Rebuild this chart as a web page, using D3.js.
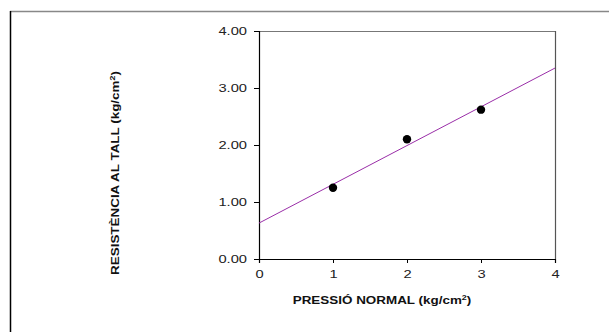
<!DOCTYPE html>
<html><head><meta charset="utf-8">
<script src="https://cdn.jsdelivr.net/npm/d3@7"></script>
<style>body{margin:0;background:#fff;}svg{display:block;font-family:"Liberation Sans",Arial,sans-serif;}</style>
</head><body>
<svg id="c" width="609" height="332"></svg>
<script>
const pressure = [1, 2, 3];
const resistance = [1.25, 2.10, 2.62];
const fitX = [0, 4];
const fitY = [0.63, 3.35];
const xTicks = [0, 1, 2, 3, 4];
const yTicks = [0, 1, 2, 3, 4];

const svg = d3.select("#c");
const L = 259, R = 555, T = 31, B = 259;
const SX = 1.28; // wide text rendering
const x = d3.scaleLinear().domain([0, 4]).range([L, R]);
const y = d3.scaleLinear().domain([0, 4]).range([B, T]);

// outer frame
svg.append("line").attr("x1",10).attr("x2",609).attr("y1",11.5).attr("y2",11.5).attr("stroke","#888").attr("stroke-width",1.5);
svg.append("line").attr("x1",10.5).attr("x2",10.5).attr("y1",11).attr("y2",332).attr("stroke","#000").attr("stroke-width",1.5);

// plot frame top & right
svg.append("line").attr("x1",L).attr("x2",R).attr("y1",T+0.5).attr("y2",T+0.5).attr("stroke","#777").attr("stroke-width",1.2);
svg.append("line").attr("x1",R+0.5).attr("x2",R+0.5).attr("y1",T).attr("y2",B).attr("stroke","#555").attr("stroke-width",1.2);

// axes
const xAxis = svg.append("g").attr("transform",`translate(0,${B})`)
  .call(d3.axisBottom(x).tickValues(xTicks).tickFormat(d3.format("d")).tickSizeOuter(0).tickSize(4).tickPadding(7));
const yAxis = svg.append("g").attr("transform",`translate(${L},0)`)
  .call(d3.axisLeft(y).tickValues(yTicks).tickFormat(d3.format(".2f")).tickSizeOuter(0).tickSize(5).tickPadding(7));
[xAxis, yAxis].forEach(g => {
  g.selectAll("path").attr("stroke","#000").attr("stroke-width",1.2);
  g.selectAll("line").attr("stroke","#000");
  g.selectAll("text").attr("font-family","Liberation Sans, Arial, sans-serif").attr("font-size",11.5).attr("fill","#222");
});
xAxis.selectAll(".tick text").attr("transform", `scale(${SX},1)`);
yAxis.selectAll(".tick text").attr("x", 0).attr("transform", `translate(-12,0) scale(${SX},1)`);

// fit line
svg.append("line")
  .attr("x1", x(fitX[0])).attr("y1", y(fitY[0]))
  .attr("x2", x(fitX[1])).attr("y2", y(fitY[1]))
  .attr("stroke","#9a2ea8").attr("stroke-width",1);

// points
svg.selectAll("circle.pt").data(pressure).enter().append("circle")
  .attr("class","pt")
  .attr("cx", d => x(d)).attr("cy", (d,i) => y(resistance[i])).attr("r", 4.2).attr("fill","#000");

// axis titles
const xt = svg.append("text").attr("transform",`translate(382,303.5) scale(${SX},1)`).attr("text-anchor","middle")
  .attr("font-size",10.5).attr("font-weight","bold").attr("fill","#111");
xt.append("tspan").text("PRESSIÓ NORMAL (kg/cm");
xt.append("tspan").attr("font-size",7).attr("dy",-3.5).text("2");
xt.append("tspan").attr("dy",3.5).text(")");

const yt = svg.append("text").attr("transform",`translate(118.5,173) rotate(-90) scale(${SX},1)`).attr("text-anchor","middle")
  .attr("font-size",10.5).attr("font-weight","bold").attr("fill","#111");
yt.append("tspan").text("RESISTÈNCIA AL TALL (kg/cm");
yt.append("tspan").attr("font-size",7).attr("dy",-3.5).text("2");
yt.append("tspan").attr("dy",3.5).text(")");
</script>
</body></html>
